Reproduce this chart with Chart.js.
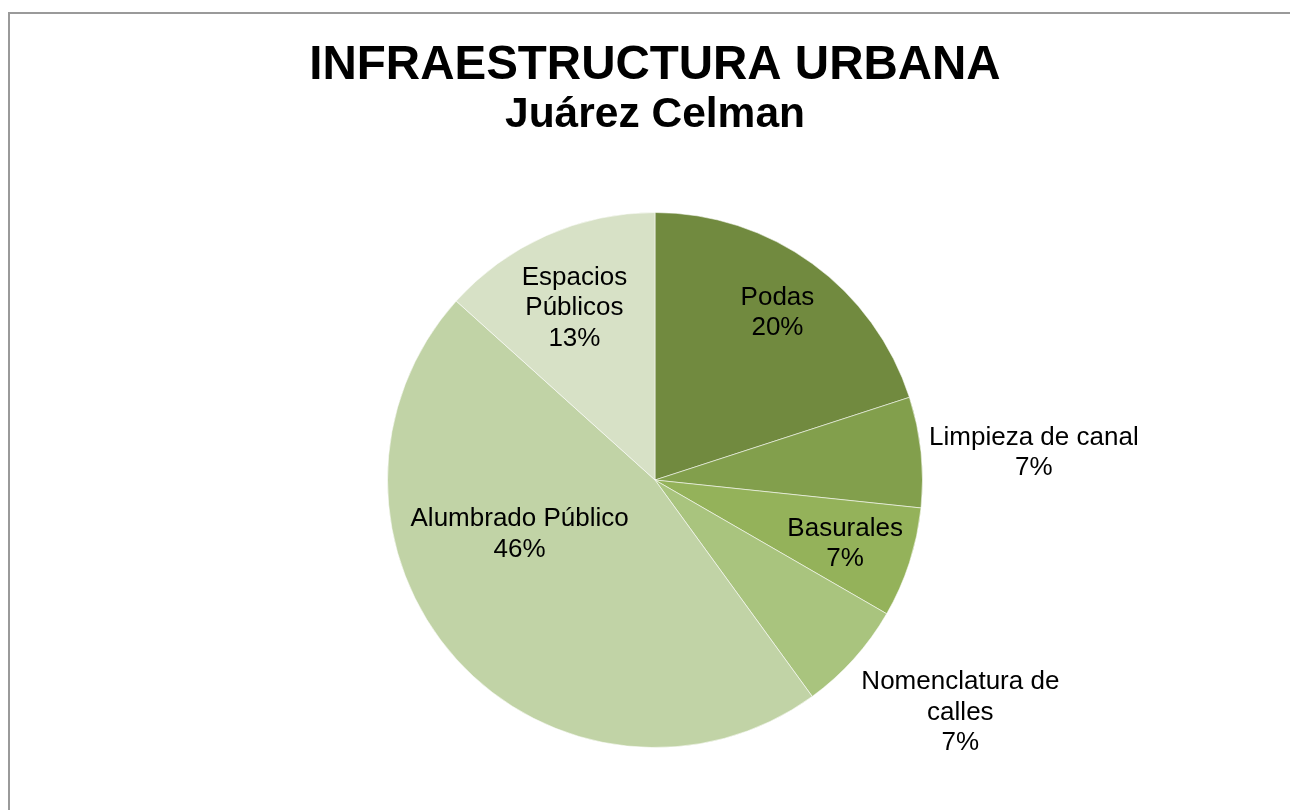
<!DOCTYPE html>
<html>
<head>
<meta charset="utf-8">
<script src="https://cdn.jsdelivr.net/npm/chart.js@4/dist/chart.umd.min.js"></script>
<style>
  html, body { margin: 0; padding: 0; background: #fff; overflow: hidden; }
  #wrap { position: relative; width: 1290px; height: 810px; }
  #frame { position: absolute; left: 8px; top: 12px; width: 1400px; height: 900px;
           border: 2px solid #9a9a9a; box-sizing: border-box; pointer-events: none; }
  canvas { position: absolute; left: 0; top: 0; }
</style>
</head>
<body>
<div id="wrap">
  <canvas id="pie" width="1290" height="810"></canvas>
  <div id="frame"></div>
</div>
<script>
/* Infraestructura urbana, Juárez Celman: pie of requests by category. */

const CATEGORIES = ["Podas", "Limpieza de canal", "Basurales", "Nomenclatura de calles", "Alumbrado Público", "Espacios Públicos"];
const VALUES = [3, 1, 1, 1, 7, 2];
const PERCENT_LABELS = ["20%", "7%", "7%", "7%", "46%", "13%"];
// how each category name is wrapped on the chart
const NAME_LINES = [["Podas"], ["Limpieza de canal"], ["Basurales"], ["Nomenclatura de", "calles"], ["Alumbrado Público"], ["Espacios", "Públicos"]];

const COLORS = ["#718a3f", "#829f4c", "#94b25a", "#a9c47e", "#c1d3a6", "#d7e1c6"];
const FONT = "'Liberation Sans', Arial, sans-serif";

// label placement relative to each slice: angle shift (deg) from the slice middle, radius factor
const LABEL_POS = [
  { da: 0.2, r: 0.775 },
  { da: 1.9, r: 1.42 },
  { da: 0.6, r: 0.75 },
  { da: -4.7, r: 1.435 },
  { da: 20.2, r: 0.545 },
  { da: -1.1, r: 0.71 },
];

const sliceLabels = {
  id: "sliceLabels",
  afterDatasetsDraw(chart) {
    const ctx = chart.ctx;
    const arcs = chart.getDatasetMeta(0).data;
    ctx.save();
    ctx.font = `26px ${FONT}`;
    ctx.fillStyle = "#000";
    ctx.textAlign = "center";
    ctx.textBaseline = "middle";
    arcs.forEach((arc, i) => {
      const p = arc.getProps(["x", "y", "startAngle", "endAngle", "outerRadius"], true);
      const mid = (p.startAngle + p.endAngle) / 2 + LABEL_POS[i].da * Math.PI / 180;
      const cx = p.x + Math.cos(mid) * p.outerRadius * LABEL_POS[i].r;
      const cy = p.y + Math.sin(mid) * p.outerRadius * LABEL_POS[i].r;
      const lines = NAME_LINES[i].concat([PERCENT_LABELS[i]]);
      const lh = 30.5;
      const y0 = cy - (lines.length - 1) * lh / 2;
      lines.forEach((t, k) => ctx.fillText(t, cx, y0 + k * lh));
    });
    ctx.restore();
  },
};

new Chart(document.getElementById("pie"), {
  type: "pie",
  data: {
    labels: CATEGORIES,
    datasets: [{
      data: VALUES,
      backgroundColor: COLORS,
      borderColor: "rgba(255,255,255,0.55)",
      borderWidth: 1,
    }],
  },
  options: {
    responsive: false,
    animation: false,
    layout: { padding: { left: 20, right: 0, top: 0, bottom: 62 } },
    plugins: {
      legend: { display: false },
      tooltip: { enabled: false },
      title: {
        display: true,
        text: "INFRAESTRUCTURA URBANA",
        color: "#000",
        font: { family: FONT, size: 47.5, weight: "bold", lineHeight: 1.0 },
        padding: { top: 42, bottom: 0 },
      },
      subtitle: {
        display: true,
        text: "Juárez Celman",
        color: "#000",
        font: { family: FONT, size: 42.5, weight: "bold", lineHeight: 1.0 },
        padding: { top: 5, bottom: 75 },
      },
    },
  },
  plugins: [sliceLabels],
});
</script>
</body>
</html>
